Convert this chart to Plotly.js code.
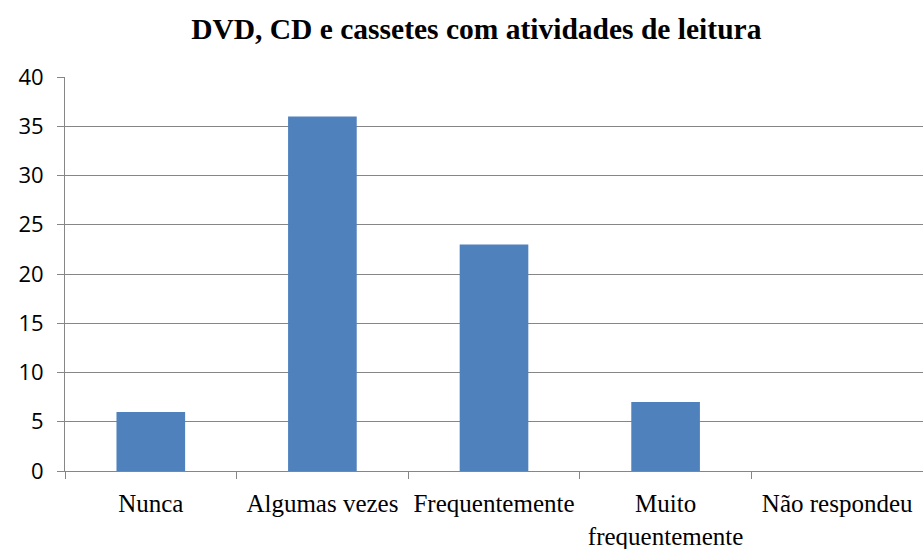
<!DOCTYPE html>
<html><head><meta charset="utf-8">
<script src="https://cdn.plot.ly/plotly-3.0.1.min.js"></script>
<style>body{margin:0;padding:0;background:#fff}#chart{width:923px;height:549px}</style>
</head><body><div id="chart"></div>
<script>
const categories = ["Nunca", "Algumas vezes", "Frequentemente", "Muito<br>frequentemente", "Não respondeu"];
const values = [6, 36, 23, 7, 0];
const yTicks = [0, 5, 10, 15, 20, 25, 30, 35, 40];

const serif = '"Liberation Serif", "Times New Roman", Times, serif';
Plotly.newPlot('chart', [{
  type: 'bar', x: categories, y: values,
  marker: {color: '#4F81BD'}, hoverinfo: 'x+y'
}], {
  width: 923, height: 549,
  margin: {l: 65, r: 0, t: 77, b: 78},
  paper_bgcolor: '#fff', plot_bgcolor: '#fff',
  font: {family: serif, size: 19, color: '#000'},
  bargap: 0.6,
  title: {text: '<b>DVD, CD e cassetes com atividades de leitura</b>',
    font: {family: serif, size: 29.5, color: '#000', weight: 'bold'}, x: 0.516, xanchor: 'center', y: 0.948, yanchor: 'middle'},
  xaxis: {type: 'category', tickson: 'boundaries', ticks: 'outside', ticklen: 7, tickcolor: '#868686',
    showline: true, linecolor: '#868686', linewidth: 1, showgrid: false, ticklabelstandoff: 10,
    tickangle: 0, automargin: false,
    tickfont: {family: serif, size: 25, color: '#000'}},
  yaxis: {range: [0, 40], tickvals: yTicks, ticks: 'outside', ticklen: 7, tickcolor: '#868686',
    showline: true, linecolor: '#868686', gridcolor: '#868686', gridwidth: 1, zeroline: false,
    ticklabelstandoff: 9,
    tickfont: {family: '"Open Sans", sans-serif', size: 22, color: '#000'}},
  showlegend: false
}, {displayModeBar: false});
</script></body></html>
